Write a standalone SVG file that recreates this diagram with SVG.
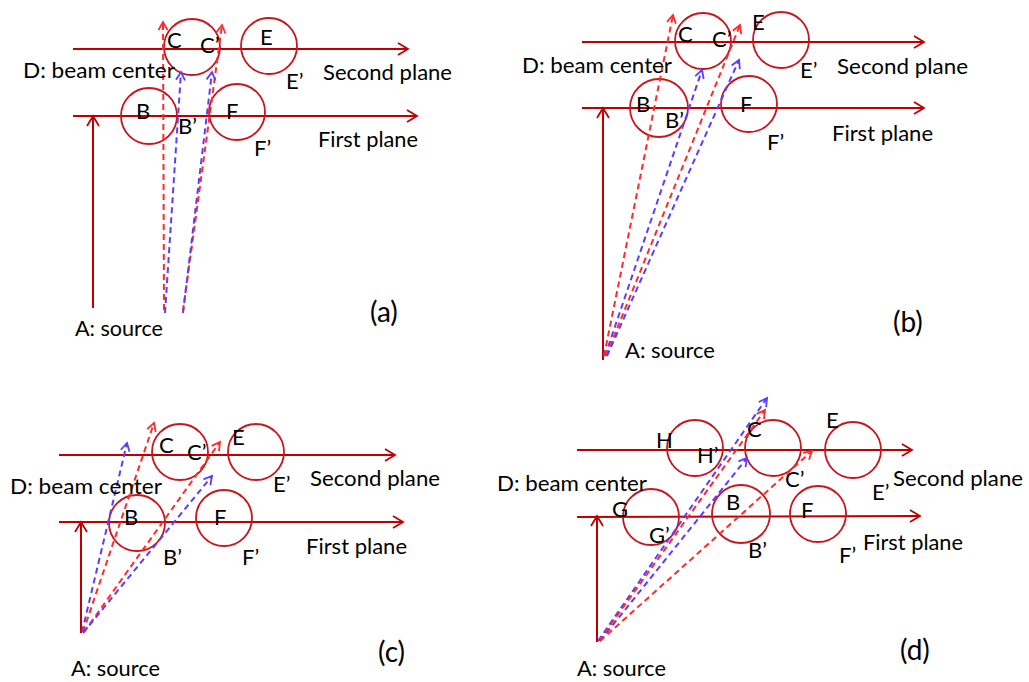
<svg xmlns="http://www.w3.org/2000/svg" width="1029" height="682" viewBox="0 0 1029 682">
<style>
.pl{stroke:#C00000;stroke-width:2;fill:none}
.ax{stroke:#C00000;stroke-width:2;fill:none}
.ci{stroke:#C8161E;stroke-width:1.8;fill:none}
.rd{stroke:#FF2A2A;stroke-width:2;stroke-dasharray:6 4;fill:none}
.bd{stroke:#5B3DFF;stroke-width:2;stroke-dasharray:6 4;fill:none}
text{font-family:Lato,"Open Sans","Liberation Sans",sans-serif;font-size:22px;fill:#000}
.big{font-size:28px}
</style>
<defs>
<marker id="mS" markerUnits="userSpaceOnUse" markerWidth="14" markerHeight="14" viewBox="-2 -7 14 14" refX="10" refY="0" orient="auto">
<path d="M0,-6 L10,0 L0,6" fill="none" stroke="#C00000" stroke-width="1.8"/>
</marker>
<marker id="mR" markerUnits="userSpaceOnUse" markerWidth="12" markerHeight="12" viewBox="-2 -6 12 12" refX="8" refY="0" orient="auto">
<path d="M0,-4.5 L8,0 L0,4.5" fill="none" stroke="#FF2A2A" stroke-width="1.8"/>
</marker>
<marker id="mB" markerUnits="userSpaceOnUse" markerWidth="12" markerHeight="12" viewBox="-2 -6 12 12" refX="8" refY="0" orient="auto">
<path d="M0,-4.5 L8,0 L0,4.5" fill="none" stroke="#5B3DFF" stroke-width="1.8"/>
</marker>
</defs>

<!-- Panel (a) -->
<g id="panel-a">
<g id="a-planes">
<line class="pl" x1="73" y1="49" x2="408" y2="49" marker-end="url(#mS)"/>
<line class="pl" x1="73" y1="116" x2="417" y2="116" marker-end="url(#mS)"/>
</g>
<g id="a-C"><circle class="ci" cx="192" cy="47" r="28"/><text x="167" y="48">C</text><text x="200" y="53">C’</text></g>
<g id="a-E"><circle class="ci" cx="269" cy="46" r="28"/><text x="260" y="45">E</text><text x="286" y="89">E’</text></g>
<g id="a-B"><circle class="ci" cx="149" cy="116" r="28"/><text x="136" y="119">B</text><text x="178" y="134">B’</text></g>
<g id="a-F"><circle class="ci" cx="237" cy="112" r="28"/><text x="226" y="119">F</text><text x="254" y="156">F’</text></g>
<g id="a-connectors">
<line class="ax" x1="93" y1="308" x2="93" y2="116" marker-end="url(#mS)"/>
<line class="rd" x1="164" y1="310" x2="163" y2="22" marker-end="url(#mR)"/>
<line class="bd" x1="165" y1="313" x2="181" y2="72" marker-end="url(#mB)"/>
<line class="rd" x1="183" y1="311" x2="222" y2="25" marker-end="url(#mR)"/>
<line class="bd" x1="183" y1="313" x2="212" y2="72" marker-end="url(#mB)"/>
</g>
<g id="a-labels">
<text x="23" y="78" textLength="152" lengthAdjust="spacingAndGlyphs">D: beam center</text>
<text x="323" y="80" textLength="129" lengthAdjust="spacingAndGlyphs">Second plane</text>
<text x="318" y="147" textLength="100" lengthAdjust="spacingAndGlyphs">First plane</text>
<text x="75" y="336" textLength="88" lengthAdjust="spacingAndGlyphs">A: source</text>
<text class="big" x="370" y="322">(a)</text>
</g>
</g>

<!-- Panel (b) -->
<g id="panel-b">
<g id="b-planes">
<line class="pl" x1="582" y1="42" x2="924" y2="42" marker-end="url(#mS)"/>
<line class="pl" x1="582" y1="108" x2="924" y2="108" marker-end="url(#mS)"/>
</g>
<g id="b-C"><circle class="ci" cx="703" cy="41" r="28"/><text x="678" y="42">C</text><text x="712" y="47">C’</text></g>
<g id="b-E"><circle class="ci" cx="781" cy="40" r="28"/><text x="752" y="30">E</text><text x="800" y="78">E’</text></g>
<g id="b-B"><circle class="ci" cx="659" cy="108" r="29"/><text x="636" y="112">B</text><text x="665" y="128">B’</text></g>
<g id="b-F"><circle class="ci" cx="749" cy="104" r="28"/><text x="740" y="112">F</text><text x="767" y="150">F’</text></g>
<g id="b-connectors">
<line class="ax" x1="603" y1="360" x2="603" y2="108" marker-end="url(#mS)"/>
<line class="rd" x1="604" y1="356" x2="673" y2="15" marker-end="url(#mR)"/>
<line class="bd" x1="605" y1="356" x2="702" y2="70" marker-end="url(#mB)"/>
<line class="rd" x1="606" y1="356" x2="740" y2="25" marker-end="url(#mR)"/>
<line class="bd" x1="607" y1="356" x2="739" y2="60" marker-end="url(#mB)"/>
</g>
<g id="b-labels">
<text x="522" y="73" textLength="150" lengthAdjust="spacingAndGlyphs">D: beam center</text>
<text x="837" y="74" textLength="131" lengthAdjust="spacingAndGlyphs">Second plane</text>
<text x="832" y="141" textLength="101" lengthAdjust="spacingAndGlyphs">First plane</text>
<text x="625" y="358" textLength="90" lengthAdjust="spacingAndGlyphs">A: source</text>
<text class="big" x="893" y="332">(b)</text>
</g>
</g>

<!-- Panel (c) -->
<g id="panel-c">
<g id="c-planes">
<line class="pl" x1="59" y1="455" x2="395" y2="455" marker-end="url(#mS)"/>
<line class="pl" x1="59" y1="522" x2="403" y2="522" marker-end="url(#mS)"/>
</g>
<g id="c-C"><circle class="ci" cx="180" cy="452" r="28"/><text x="159" y="453">C</text><text x="187" y="460">C’</text></g>
<g id="c-E"><circle class="ci" cx="256" cy="452" r="28"/><text x="232" y="445">E</text><text x="273" y="492">E’</text></g>
<g id="c-B"><circle class="ci" cx="137" cy="523" r="28"/><text x="124" y="525">B</text><text x="163" y="565">B’</text></g>
<g id="c-F"><circle class="ci" cx="224" cy="518" r="28"/><text x="214" y="525">F</text><text x="242" y="565">F’</text></g>
<g id="c-connectors">
<line class="ax" x1="81" y1="633" x2="81" y2="522" marker-end="url(#mS)"/>
<line class="bd" x1="82" y1="632" x2="127" y2="443" marker-end="url(#mB)"/>
<line class="rd" x1="83" y1="632" x2="154" y2="423" marker-end="url(#mR)"/>
<line class="rd" x1="84" y1="632" x2="220" y2="442" marker-end="url(#mR)"/>
<line class="bd" x1="83" y1="633" x2="212" y2="476" marker-end="url(#mB)"/>
</g>
<g id="c-labels">
<text x="10" y="494" textLength="152" lengthAdjust="spacingAndGlyphs">D: beam center</text>
<text x="310" y="486" textLength="130" lengthAdjust="spacingAndGlyphs">Second plane</text>
<text x="306" y="554" textLength="101" lengthAdjust="spacingAndGlyphs">First plane</text>
<text x="71" y="676" textLength="89" lengthAdjust="spacingAndGlyphs">A: source</text>
<text class="big" x="378" y="662">(c)</text>
</g>
</g>

<!-- Panel (d) -->
<g id="panel-d">
<g id="d-planes">
<line class="pl" x1="577" y1="450" x2="912" y2="450" marker-end="url(#mS)"/>
<line class="pl" x1="577" y1="517" x2="920" y2="516" marker-end="url(#mS)"/>
</g>
<g id="d-H"><circle class="ci" cx="695" cy="448" r="28"/><text x="656" y="448">H</text><text x="697" y="463">H’</text></g>
<g id="d-C"><circle class="ci" cx="773" cy="448" r="28"/><text x="747" y="437">C</text><text x="785" y="487">C’</text></g>
<g id="d-E"><circle class="ci" cx="853" cy="450" r="28"/><text x="826" y="428">E</text><text x="872" y="500">E’</text></g>
<g id="d-G"><circle class="ci" cx="651" cy="517" r="28"/><text x="612" y="517">G</text><text x="649" y="543">G’</text></g>
<g id="d-B"><circle class="ci" cx="741" cy="514" r="29"/><text x="726" y="510">B</text><text x="748" y="558">B’</text></g>
<g id="d-F"><circle class="ci" cx="818" cy="514" r="28"/><text x="801" y="518">F</text><text x="839" y="563">F’</text></g>
<g id="d-connectors">
<line class="ax" x1="597" y1="642" x2="597" y2="516" marker-end="url(#mS)"/>
<line class="bd" x1="598" y1="641" x2="767" y2="398" marker-end="url(#mB)"/>
<line class="rd" x1="599" y1="641" x2="765" y2="410" marker-end="url(#mR)"/>
<line class="bd" x1="600" y1="641" x2="747" y2="458" marker-end="url(#mB)"/>
<line class="rd" x1="600" y1="641" x2="812" y2="451" marker-end="url(#mR)"/>
</g>
<g id="d-labels">
<text x="497" y="491" textLength="150" lengthAdjust="spacingAndGlyphs">D: beam center</text>
<text x="893" y="486" textLength="130" lengthAdjust="spacingAndGlyphs">Second plane</text>
<text x="863" y="550" textLength="100" lengthAdjust="spacingAndGlyphs">First plane</text>
<text x="577" y="676" textLength="89" lengthAdjust="spacingAndGlyphs">A: source</text>
<text class="big" x="900" y="660">(d)</text>
</g>
</g>
</svg>
